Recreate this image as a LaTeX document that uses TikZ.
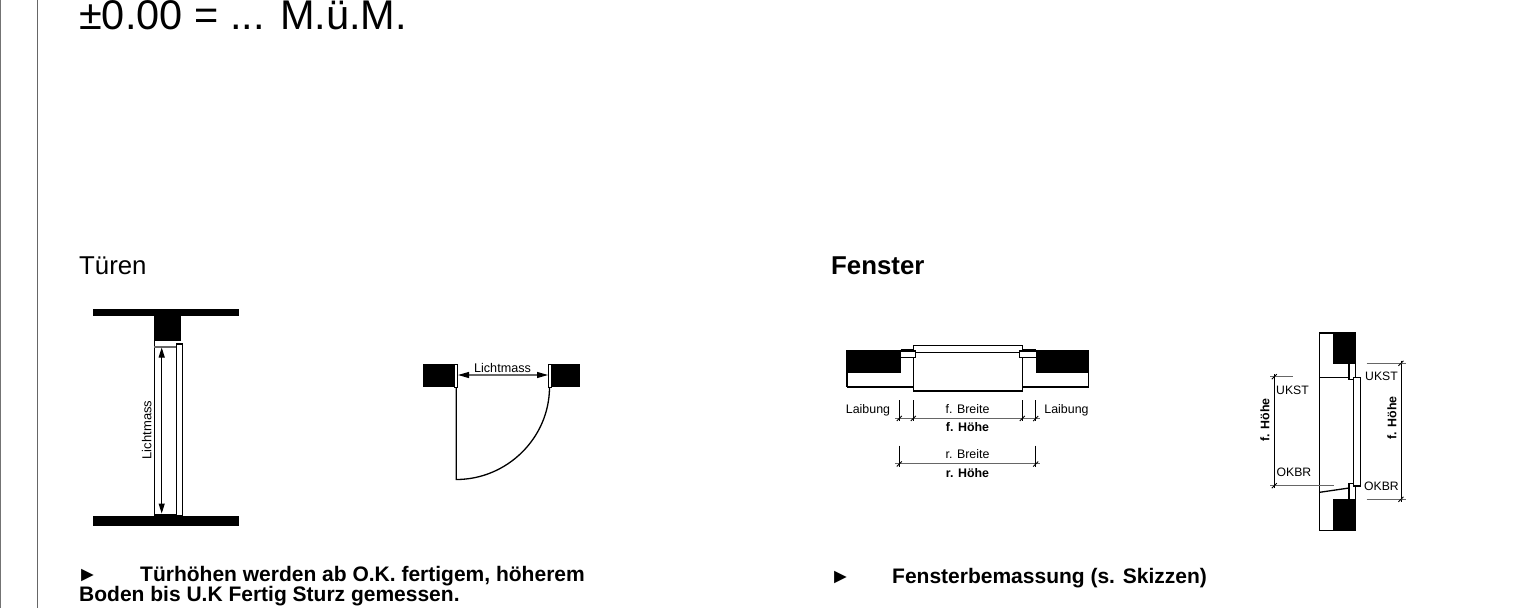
\documentclass[tikz,border=0pt]{standalone}
\usepackage{fontspec}
\setmainfont{Liberation Sans}
\usetikzlibrary{arrows.meta}
\tikzset{
	mass/.style={inner sep=0pt, font=\fontsize{12.4}{14}\selectfont},
	massb/.style={inner sep=0pt, font=\fontsize{12.4}{14}\selectfont\bfseries},
	titel/.style={inner sep=0pt, anchor=base west, font=\fontsize{25.8}{30}\selectfont},
	fuss/.style={inner sep=0pt, anchor=base west, font=\fontsize{21}{22}\selectfont\bfseries},
	hilfslinie/.style={line width=1.1pt, black!60},
	kante/.style={line width=1.3pt, black},
	spitze/.style={{Stealth[length=#1,width=6pt,inset=0pt,black]}-{Stealth[length=#1,width=6pt,inset=0pt,black]}},
}
\begin{document}
\begin{tikzpicture}[x=1pt, y=-1pt]
	\useasboundingbox (0,0) rectangle (1534,608);
	% Rand
		\draw[line width=1.2pt, black!55] (0.5,0) -- (0.5,608);
		\draw[line width=1.2pt, black!60] (37.5,0) -- (37.5,608);
	% Kopf
		\node[inner sep=0pt, anchor=base west, font=\fontsize{41.5}{46}\selectfont] (kote) at (79,29) {±0.00 = ... M.ü.M.};
		\node[titel] (tueren) at (79,274) {Türen};
		\node[titel, font=\fontsize{25.8}{30}\selectfont\bfseries] (fenster) at (831,274) {Fenster};

	% Tür Ansicht
		% Decke und Boden
			\fill (93.3,309.3) rectangle (239.3,316);
			\fill (154,316) rectangle (180.7,340.7);
			\fill (93.3,515.7) rectangle (239.3,526);
			\fill (154,513.5) rectangle (176.3,516);
		% Rahmen
			\draw[kante] (154.3,340) -- (154.3,516);
			\draw[hilfslinie] (154.3,347) -- (176.3,347);
			\draw[kante, fill=white] (176.5,344) rectangle (182.3,516);
		% Lichtmass
			\draw[spitze=10pt, line width=1pt] (161.7,347.5) -- (161.7,513.5);
			\node[mass, font=\fontsize{13}{14}\selectfont, rotate=90] (lichtmassa) at (146.7,430) {Lichtmass};

	% Tür Grundriss
		% Mauer
			\fill (423.3,364) rectangle (454,387.3);
			\fill (551.5,364) rectangle (580,387.3);
			\draw[line width=1pt] (454,364) rectangle (457.3,387.3);
			\draw[line width=1pt] (548.3,364) rectangle (551.5,387.3);
		% Türblatt
			\draw[kante] (456.3,387) -- (456.3,479.5) .. controls (507,479.5) and (549.5,438) .. (549.5,387);
		% Lichtmass
			\draw[spitze=11pt, hilfslinie] (458,375) -- (548,375);
			\node[mass, font=\fontsize{12.6}{14}\selectfont] (lichtmassb) at (502.5,367.5) {Lichtmass};

	% Fenster Grundriss
		% Mauer links
			\fill (846.7,350) rectangle (900.7,373.3);
			\draw[kante] (847,350) -- (847,386.7);
			\draw[line width=1.6pt] (846.5,386.7) -- (913.3,386.7);
			\draw[kante] (900.7,350) -- (913.3,350);
		% Mauer rechts
			\fill (1035.7,350) rectangle (1089,373.3);
			\draw[kante] (1088.7,350) -- (1088.7,386.7);
			\draw[line width=1.6pt] (1022.3,386.7) -- (1089.2,386.7);
			\draw[kante] (1022.3,350) -- (1035.7,350);
		% Rahmen
			\draw[kante] (913.3,352.3) rectangle (1022.3,391);
			\draw[kante, fill=white] (913.3,345.7) rectangle (1022.3,352.3);
			\draw[kante, fill=white] (900.7,351) -- (915.7,351) -- (915.7,357.3) -- (900.7,357.3);
			\draw[kante, fill=white] (1035.7,351) -- (1019.3,351) -- (1019.3,357.3) -- (1035.7,357.3);
		% Masslinien
			\draw[hilfslinie] (895,418.3) -- (1040,418.3);
			\draw[hilfslinie] (895,463.7) -- (1040,463.7);
			\foreach \posx in {899.3,913.3,1022.3,1035.7} {
				\draw[line width=0.9pt] (\posx,400) -- (\posx,421);
				\draw[line width=0.9pt] (\posx-2.5,421) -- (\posx+2.5,416);
			}
			\foreach \posx in {899.3,1035.7} {
				\draw[line width=0.9pt] (\posx,445.7) -- (\posx,467);
				\draw[line width=0.9pt] (\posx-2.5,466.5) -- (\posx+2.5,461.5);
			}
		% Texte
			\node[mass] (laibunga) at (868,410) {Laibung};
			\node[mass] (laibungb) at (1066.5,410) {Laibung};
			\node[mass] (fbreite) at (967.5,409) {f. Breite};
			\node[massb] (fhoehea) at (967.5,427) {f. Höhe};
			\node[mass] (rbreite) at (967.5,454.5) {r. Breite};
			\node[massb] (rhoehe) at (967.5,473.5) {r. Höhe};

	% Fenster Schnitt
		% Mauer
			\fill (1333,333) rectangle (1355.7,364);
			\fill (1333,499.3) rectangle (1355.7,530.7);
			\draw[kante] (1355.7,333) -- (1319.7,333) -- (1319.7,530.7) -- (1355.7,530.7);
		% Sturz und Bank
			\draw[kante] (1319.7,377.3) -- (1349,377.3);
			\draw[kante] (1349,364) -- (1349,379.3) -- (1354,379.3);
			\draw[kante] (1355.7,364) -- (1355.7,377.3);
			\draw[kante] (1319.7,492.3) -- (1349,488);
			\draw[kante] (1349,499.3) -- (1349,483.3) -- (1354,483.3);
			\draw[kante] (1355.7,486) -- (1355.7,499.3);
		% Fensterflügel
			\draw[kante, fill=white] (1353.7,377.3) rectangle (1360.3,486);
		% Masslinien
			\draw[line width=0.9pt] (1274.3,374) -- (1274.3,488);
			\draw[hilfslinie] (1270,376.7) -- (1292.7,376.7);
			\draw[hilfslinie] (1270,485.7) -- (1334,485.7);
			\draw[line width=0.9pt] (1401,360.5) -- (1401,502);
			\draw[hilfslinie] (1366.7,363.3) -- (1406,363.3);
			\draw[hilfslinie] (1366.7,499.3) -- (1406,499.3);
			\foreach \posx/\posy in {1274.3/376.7,1274.3/485.7,1401/363.3,1401/499.3} {
				\draw[line width=0.9pt] (\posx-2.5,\posy+2.5) -- (\posx+2.5,\posy-2.5);
			}
		% Texte
			\node[mass, font=\fontsize{12.2}{14}\selectfont, anchor=west] (ukstl) at (1276,390) {UKST};
			\node[mass, font=\fontsize{12.2}{14}\selectfont, anchor=west] (ukstr) at (1365,376) {UKST};
			\node[mass, font=\fontsize{12.2}{14}\selectfont, anchor=west] (okbrl) at (1276.5,472.3) {OKBR};
			\node[mass, font=\fontsize{12.2}{14}\selectfont, anchor=west] (okbrr) at (1364,486) {OKBR};
			\node[massb, rotate=90] (fhoeheb) at (1265,420) {f. Höhe};
			\node[massb, rotate=90] (fhoehec) at (1392,418) {f. Höhe};

	% Fusszeilen
		\node[fuss] (pfeila) at (77,581) {►};
		\node[fuss] (tuertext) at (140,581) {Türhöhen werden ab O.K. fertigem, höherem};
		\node[fuss] (tuertextb) at (79,601) {Boden bis U.K Fertig Sturz gemessen.};
		\node[fuss] (pfeilb) at (830,583) {►};
		\node[fuss] (fenstertext) at (892,583) {Fensterbemassung (s. Skizzen)};
\end{tikzpicture}
\end{document}
